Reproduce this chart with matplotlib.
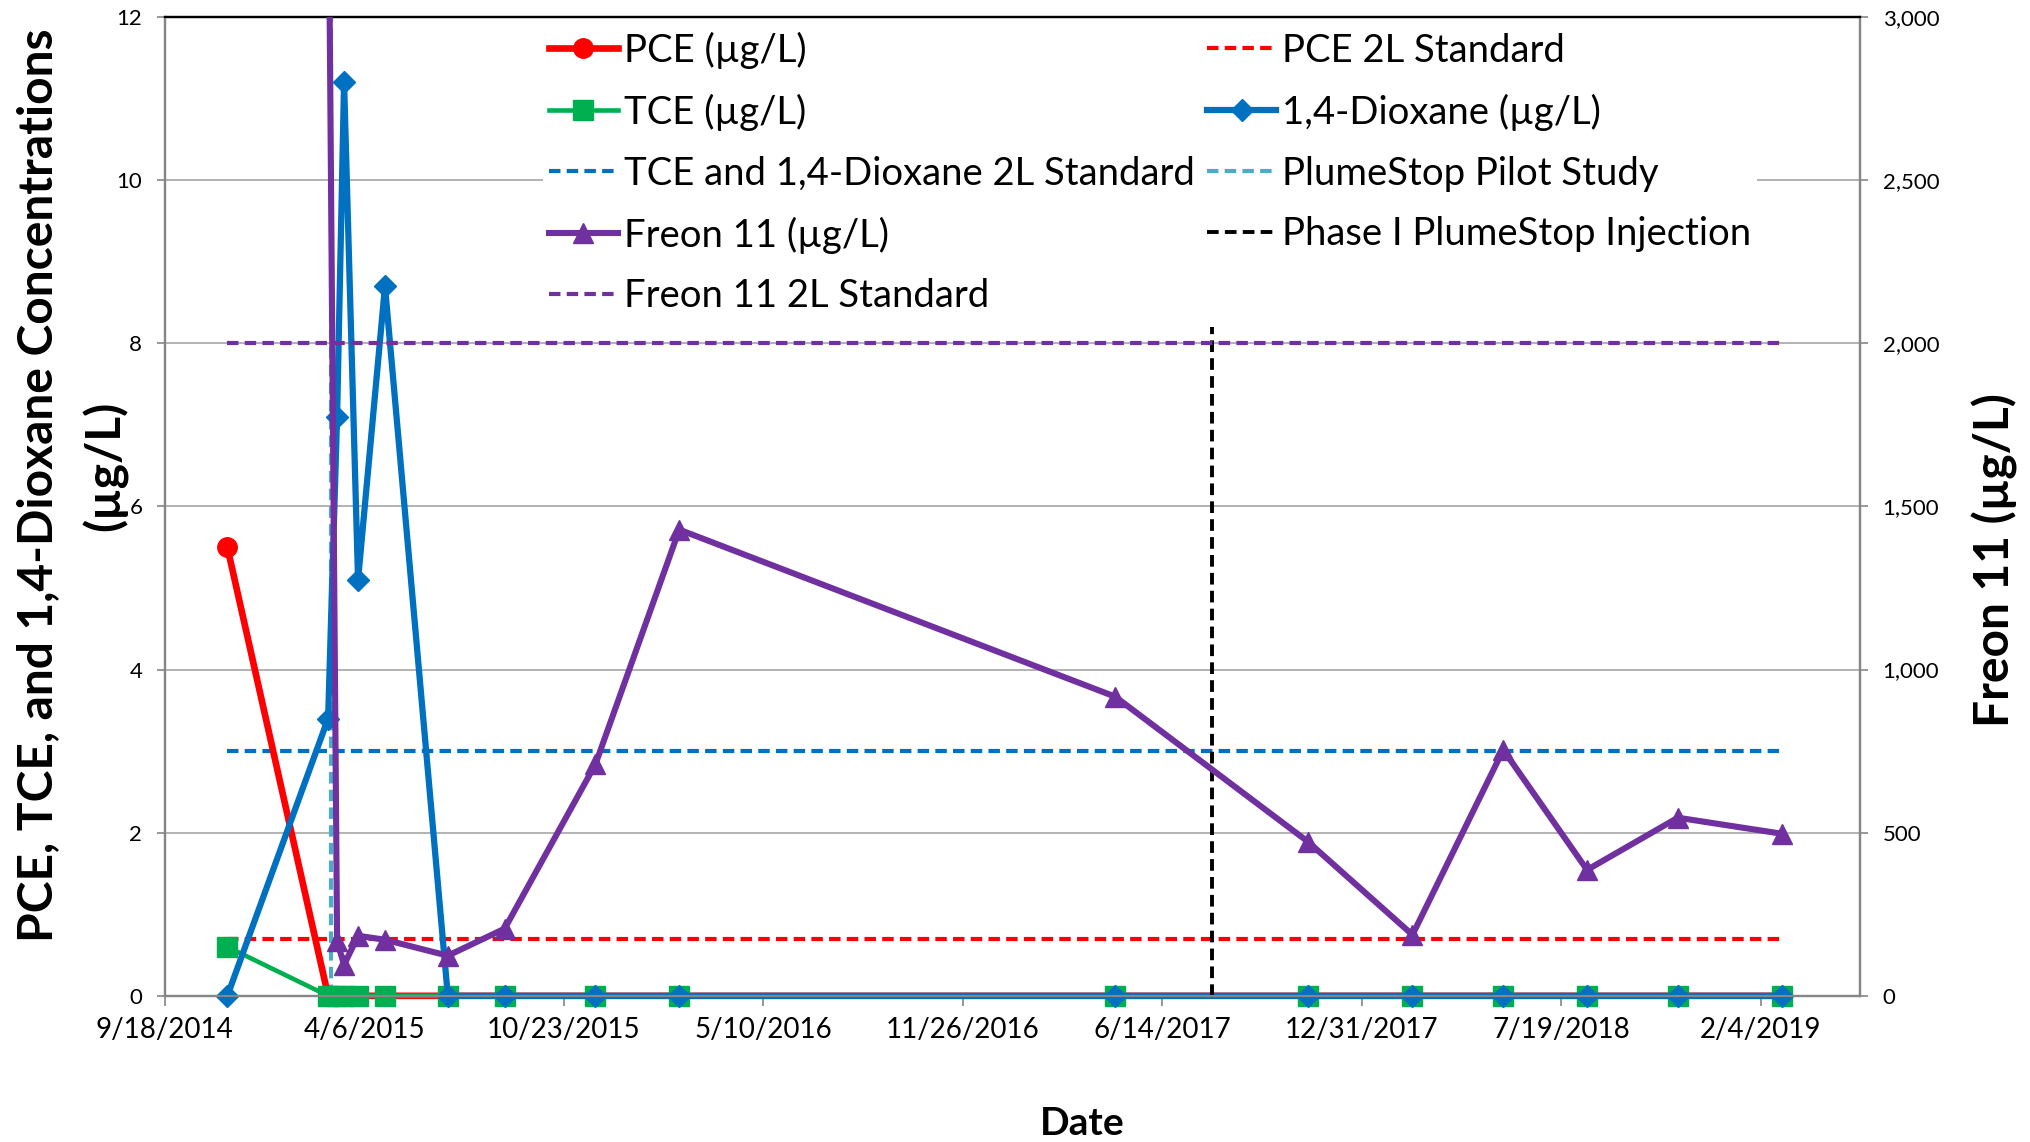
import datetime as dt

import matplotlib
matplotlib.use("Agg")
import matplotlib.pyplot as plt
import matplotlib.dates as mdates
from matplotlib.ticker import FuncFormatter, MultipleLocator
import numpy as np

plt.rcParams["font.family"] = ["Lato", "DejaVu Sans"]

# sampling dates
dates = [
    dt.datetime(2014, 11, 20), dt.datetime(2015, 3, 1), dt.datetime(2015, 3, 10),
    dt.datetime(2015, 3, 17), dt.datetime(2015, 3, 31), dt.datetime(2015, 4, 27),
    dt.datetime(2015, 6, 29), dt.datetime(2015, 8, 25), dt.datetime(2015, 11, 24),
    dt.datetime(2016, 2, 16), dt.datetime(2017, 4, 28), dt.datetime(2017, 11, 7),
    dt.datetime(2018, 2, 20), dt.datetime(2018, 5, 22), dt.datetime(2018, 8, 14),
    dt.datetime(2018, 11, 13), dt.datetime(2019, 2, 25),
]
pce = [5.5, 0, 0, 0, 0, 0, 0, 0, 0, 0, 0, 0, 0, 0, 0, 0, 0]
tce = [0.6, 0, 0, 0, 0, 0, 0, 0, 0, 0, 0, 0, 0, 0, 0, 0, 0]
dioxane = [0, 3.4, 7.1, 11.2, 5.1, 8.7, 0, 0, 0, 0, 0, 0, 0, 0, 0, 0, 0]
freon = [np.nan, 3600, 167, 95, 184, 172, 123, 206, 710, 1429,
         917, 473, 187, 754, 386, 546, 497]

# standards and events
pce_std = 0.7
tce_diox_std = 3.0
freon_std = 2000
pilot_date = dt.datetime(2015, 3, 4)
pilot_range = [0, 12]
phase1_date = dt.datetime(2017, 8, 3)
phase1_range = [0, 8.2]

x_start = dt.datetime(2014, 9, 18)
x_end = x_start + dt.timedelta(days=1700)
x_ticks = [x_start + dt.timedelta(days=200 * k) for k in range(9)]

fig = plt.figure(figsize=(20.31, 11.42), dpi=100)
ax = fig.add_axes([0.081, 0.128, 0.835, 0.857])
ax2 = ax.twinx()

std_dash = (0, (2.75, 1.5))
span = [dates[0], dates[-1]]

l_pce, = ax.plot(dates, pce, color="#FF0000", lw=4.8, marker="o", ms=14,
                 clip_on=False, zorder=3, label="PCE (µg/L)")
l_tce, = ax.plot(dates, tce, color="#00B050", lw=3.3, marker="s", ms=14,
                 clip_on=False, zorder=4, label="TCE (µg/L)")
l_diox, = ax.plot(dates, dioxane, color="#0070C0", lw=4.5, marker="D", ms=11,
                  clip_on=False, zorder=5, label="1,4-Dioxane (µg/L)")
l_pstd, = ax.plot(span, [pce_std, pce_std], color="#FF0000", lw=3,
                  linestyle=std_dash, zorder=2, label="PCE 2L Standard")
l_tstd, = ax.plot(span, [tce_diox_std, tce_diox_std], color="#0070C0", lw=3,
                  linestyle=std_dash, zorder=2,
                  label="TCE and 1,4-Dioxane 2L Standard")
l_pilot, = ax.plot([pilot_date, pilot_date], pilot_range, color="#4BACC6",
                   lw=3, linestyle=std_dash, zorder=2,
                   label="PlumeStop Pilot Study")
l_phase, = ax.plot([phase1_date, phase1_date], phase1_range, color="black",
                   lw=2.8, linestyle=(0, (3, 1.6)), zorder=6,
                   label="Phase I PlumeStop Injection")

l_freon, = ax2.plot(dates, freon, color="#7030A0", lw=4.4, marker="^", ms=14,
                    zorder=3, label="Freon 11 (µg/L)")
l_fstd, = ax2.plot(span, [freon_std, freon_std], color="#7030A0", lw=3,
                   linestyle=std_dash, zorder=2, label="Freon 11 2L Standard")

ax.set_xlim(x_start, x_end)
ax.set_ylim(0, 12)
ax2.set_ylim(0, 3000)
ax.set_xticks(x_ticks)
ax.xaxis.set_major_formatter(FuncFormatter(
    lambda v, p: "{d.month}/{d.day}/{d.year}".format(d=mdates.num2date(v))))
ax.yaxis.set_major_locator(MultipleLocator(2))
ax2.yaxis.set_major_locator(MultipleLocator(500))
ax2.yaxis.set_major_formatter(FuncFormatter(lambda v, p: f"{int(v):,}"))

ax.grid(axis="y", color="#A6A6A6", lw=1.2)
ax.set_axisbelow(True)

for a in (ax, ax2):
    for side in ("left", "right", "bottom"):
        a.spines[side].set_color("#868686")
        a.spines[side].set_linewidth(1.6)
    a.spines["top"].set_color("black")
    a.spines["top"].set_linewidth(1.6)

ax.tick_params(axis="x", labelsize=20, length=7, width=1.2, color="#868686",
               direction="out", pad=8)
ax.tick_params(axis="y", labelsize=16, length=6, width=1.2, color="#868686",
               direction="out", pad=10)
ax2.tick_params(axis="y", labelsize=16, length=6, width=1.2, color="#868686",
                direction="out", pad=10)

fig.text(0.019, 0.575, "PCE, TCE, and 1,4-Dioxane Concentrations",
         rotation=90, fontsize=34.5, fontweight="bold", ha="center", va="center")
fig.text(0.052, 0.592, "(µg/L)", rotation=90, fontsize=34.5, fontweight="bold",
         ha="center", va="center")
fig.text(0.982, 0.51, "Freon 11 (µg/L)", rotation=90, fontsize=34.5,
         fontweight="bold", ha="center", va="center")
fig.text(0.533, 0.016, "Date", fontsize=28, fontweight="bold",
         ha="center", va="center")

handles = [l_pce, l_tce, l_tstd, l_freon, l_fstd,
           l_pstd, l_diox, l_pilot, l_phase]
leg = ax2.legend(handles=handles, ncol=2, loc="upper left",
                 bbox_to_anchor=(0.258, 0.994), bbox_transform=fig.transFigure,
                 fontsize=27.5, frameon=True, facecolor="white", edgecolor="none",
                 framealpha=1, borderpad=0.15, handlelength=1.8,
                 handletextpad=0.17, columnspacing=0.32, labelspacing=0.65)
leg.set_zorder(10)

fig.savefig("out.png", dpi=100)
